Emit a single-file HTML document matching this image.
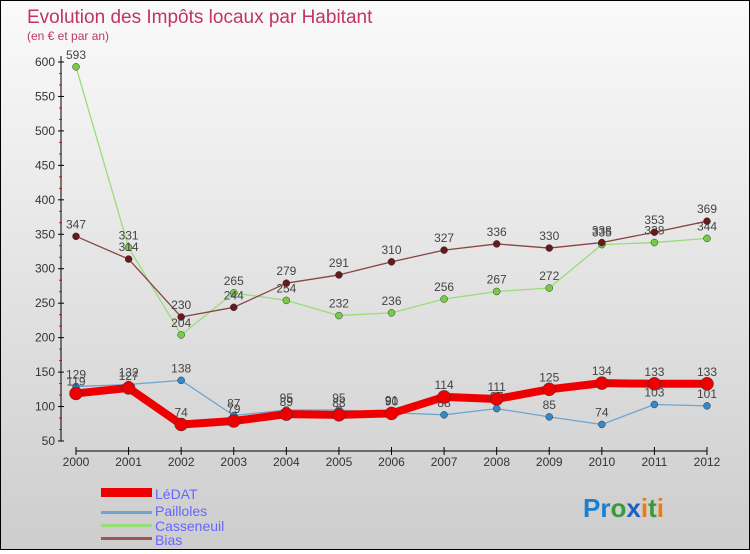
<!DOCTYPE html>
<html><head><meta charset="utf-8"><style>
html,body{margin:0;padding:0}
body{width:750px;height:550px;overflow:hidden;font-family:"Liberation Sans","DejaVu Sans",sans-serif}
#wrap{position:absolute;left:0;top:0;width:748px;height:548px;border:1px solid #000;background:linear-gradient(#fafafa,#cdcdcd)}
</style></head><body>
<div id="wrap">
<svg id="chart" width="748" height="548" xmlns="http://www.w3.org/2000/svg">
<text x="26" y="22" font-size="19" fill="#c0365f">Evolution des Impôts locaux par Habitant</text>
<text x="26" y="39" font-size="12" fill="#c0365f">(en € et par an)</text>
<g id="axes"></g>
<g id="series"></g>
<g id="legend">
<rect x="100" y="487" width="51" height="9" fill="#e00"/>
<text x="154" y="498" font-size="14" fill="#6666ff">LéDAT</text>
<rect x="100" y="510" width="51" height="3" fill="#6fa4d0"/>
<text x="154" y="515" font-size="14" fill="#6666ff">Pailloles</text>
<rect x="100" y="523" width="51" height="3" fill="#99dd77"/>
<text x="154" y="530" font-size="14" fill="#6666ff">Casseneuil</text>
<rect x="100" y="536" width="51" height="3" fill="#9b5555"/>
<text x="154" y="544" font-size="14" fill="#6666ff">Bias</text>
</g>
<text x="582" y="516" font-size="26" font-weight="bold"><tspan fill="#1a7fd0">Pr</tspan><tspan fill="#3a9a3a">o</tspan><tspan fill="#1a60c0">x</tspan><tspan fill="#ee7a10">i</tspan><tspan fill="#3a9a3a">t</tspan><tspan fill="#ee7a10">i</tspan></text>
</svg>
</div>
<script>
const years=["2000","2001","2002","2003","2004","2005","2006","2007","2008","2009","2010","2011","2012"];
const yTicks=[50,100,150,200,250,300,350,400,450,500,550,600];
const ledat=[119,127,74,79,89,88,90,114,111,125,134,133,133];
const pailloles=[129,132,138,87,95,95,91,88,97,85,74,103,101];
const casseneuil=[593,331,204,265,254,232,236,256,267,272,335,338,344];
const bias=[347,314,230,244,279,291,310,327,336,330,338,353,369];
const NS="http://www.w3.org/2000/svg";
function xs(i){return 75+i*(706-75)/12;}
function ys(v){return 440-(v-50)*(379/550);}
function el(t,a,p){const e=document.createElementNS(NS,t);for(const k in a)e.setAttribute(k,a[k]);p.appendChild(e);return e;}
const axes=document.getElementById('axes');
let ya=el('line',{x1:60,y1:55,x2:60,y2:440,stroke:'#000','stroke-width':1},axes);


yTicks.forEach(v=>{
 const y=ys(v);
 let t=el('line',{x1:57,y1:y,x2:63,y2:y,stroke:'#000'},axes);
 
 
 let l=el('text',{x:54,y:y+4,'font-size':12,fill:'#333','text-anchor':'end'},axes);
 l.textContent=v;
 
 
 if(v<600){for(let k=1;k<3;k++){let m=el('line',{x1:58,y1:y-k*50/3*(379/550),x2:61,y2:y-k*50/3*(379/550),stroke:'#e00'},axes);
 
 }}
});
let xa=el('line',{x1:75,y1:450,x2:706,y2:450,stroke:'#000'},axes);


years.forEach((yr,i)=>{
 let t=el('line',{x1:xs(i),y1:446,x2:xs(i),y2:454,stroke:'#000'},axes);
 
 
 let l=el('text',{x:xs(i),y:465,'font-size':12,fill:'#333','text-anchor':'middle'},axes);
 l.textContent=yr;
 
 
});
const sg=document.getElementById('series');
function draw(name,data,color,w,r,dot){
 const g=el('g',{},sg);
 
 
 const pl=el('polyline',{points:data.map((v,i)=>xs(i)+','+ys(v)).join(' '),fill:'none',stroke:color,'stroke-width':w,'stroke-linejoin':'round'},g);
 
 
 data.forEach((v,i)=>{
  const c=el('circle',{cx:xs(i),cy:ys(v),r:r,fill:dot,stroke:'#333','stroke-width':0.5},g);
  
  
  const t=el('text',{x:xs(i),y:ys(v)-8,'font-size':12,fill:'#444','text-anchor':'middle'},g);
  t.textContent=v;
  
  
 });
}
draw('casseneuil',casseneuil,'#99dd77',1.3,3.5,'#77cc44');
draw('bias',bias,'#884444',1.3,3.5,'#661a1a');
draw('pailloles',pailloles,'#6fa4d0',1.3,3.5,'#3388cc');
draw('ledat',ledat,'#ee0000',8,6.5,'#ee0000');
</script>
</body></html>
